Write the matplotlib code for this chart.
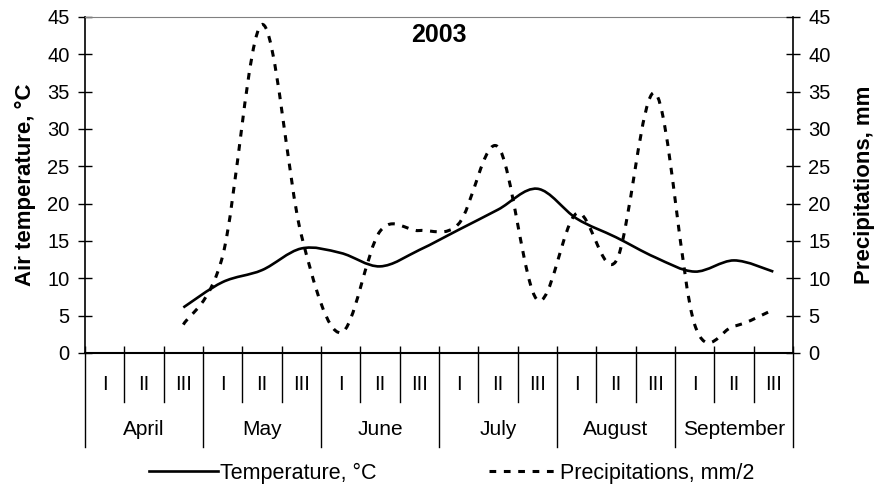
import matplotlib
matplotlib.use("Agg")
import matplotlib.pyplot as plt
from matplotlib.path import Path
from matplotlib.patches import PathPatch
from matplotlib.lines import Line2D

plt.rcParams['font.family'] = ['Liberation Sans', 'DejaVu Sans']

# ten-day periods (decades) of each month, April..September
months = ['April', 'May', 'June', 'July', 'August', 'September']
decades = ['I', 'II', 'III']

# values per decade, first two April decades have no data
temperature = [None, None, 6.1, 9.5, 11.1, 14.0, 13.4, 11.6, 13.8,
               16.5, 19.2, 22.0, 18.0, 15.5, 12.8, 10.9, 12.4, 10.9]
precip_half = [None, None, 3.8, 13.0, 44.0, 15.8, 2.7, 16.3, 16.4,
               17.3, 27.6, 7.1, 18.7, 12.3, 34.8, 3.8, 3.6, 5.8]

y_ticks = [0, 5, 10, 15, 20, 25, 30, 35, 40, 45]


def smooth_path(values):
    """Excel style smoothed line: cubic bezier pieces through the points."""
    pts = [(i + 0.5, v) for i, v in enumerate(values) if v is not None]
    n = len(pts)
    verts = [pts[0]]
    codes = [Path.MOVETO]
    for i in range(n - 1):
        p0 = pts[max(i - 1, 0)]
        p1 = pts[i]
        p2 = pts[i + 1]
        p3 = pts[min(i + 2, n - 1)]
        c1 = (p1[0] + (p2[0] - p0[0]) / 6, p1[1] + (p2[1] - p0[1]) / 6)
        c2 = (p2[0] - (p3[0] - p1[0]) / 6, p2[1] - (p3[1] - p1[1]) / 6)
        verts += [c1, c2, p2]
        codes += [Path.CURVE4] * 3
    return Path(verts, codes)


n_cat = len(months) * len(decades)

fig = plt.figure(figsize=(8.77, 4.88), dpi=100)
ax = fig.add_axes([85 / 877, 135 / 488, 708 / 877, 336 / 488])
ax2 = ax.twinx()

dash = (0, (2.2, 2.5))
ax.add_patch(PathPatch(smooth_path(temperature), fill=False, lw=1.9,
                       edgecolor='black', capstyle='butt'))
ax2.add_patch(PathPatch(smooth_path(precip_half), fill=False, lw=2.2,
                        edgecolor='black', linestyle=dash, capstyle='butt'))

for a in (ax, ax2):
    a.set_xlim(0, n_cat)
    a.set_ylim(0, 45)
    a.set_yticks(y_ticks)
    a.tick_params(axis='y', direction='inout', length=10, width=1,
                  labelsize=14.5, pad=6)

ax.set_xticks(range(n_cat + 1))
ax.set_xticklabels([])
ax.tick_params(axis='x', direction='in', length=5, width=1)
ax2.tick_params(axis='x', length=0)

ax.spines['top'].set_color('#808080')
ax.spines['top'].set_linewidth(0.8)
ax.spines['right'].set_visible(False)
ax.spines['left'].set_linewidth(1.2)
ax.spines['bottom'].set_linewidth(1.5)
ax2.spines['left'].set_visible(False)
ax2.spines['top'].set_visible(False)
ax2.spines['bottom'].set_visible(False)
ax2.spines['right'].set_linewidth(1.2)

ax.set_ylabel('Air temperature, °C', fontsize=16, fontweight='bold', labelpad=8)
ax2.set_ylabel('Precipitations, mm', fontsize=16, fontweight='bold', labelpad=17)

ax.text(0.5, 0.945, '2003', transform=ax.transAxes, ha='center', va='center',
        fontsize=18, fontweight='bold')

# two-level category axis: decades and months
tr = ax.get_xaxis_transform()
for b in range(n_cat + 1):
    bottom = -0.281 if b % 3 == 0 else -0.146
    ax.plot([b, b], [0, bottom], transform=tr, color='black', lw=1,
            clip_on=False)
for i in range(n_cat):
    ax.text(i + 0.5, -0.093, decades[i % 3], transform=tr, ha='center',
            va='center', fontsize=14.5)
for m, name in enumerate(months):
    ax.text(3 * m + 1.5, -0.228, name, transform=tr, ha='center',
            va='center', fontsize=15)

handles = [Line2D([], [], color='black', lw=1.9),
           Line2D([], [], color='black', lw=2.2, linestyle=dash,
                  dash_capstyle='butt')]
fig.legend(handles, ['Temperature, °C', 'Precipitations, mm/2'],
           loc='center', bbox_to_anchor=(0.515, 0.03), ncol=2,
           frameon=False, fontsize=15.5, handlelength=3.2,
           handletextpad=0.1, columnspacing=5.2)

fig.savefig('out.png', dpi=100)
